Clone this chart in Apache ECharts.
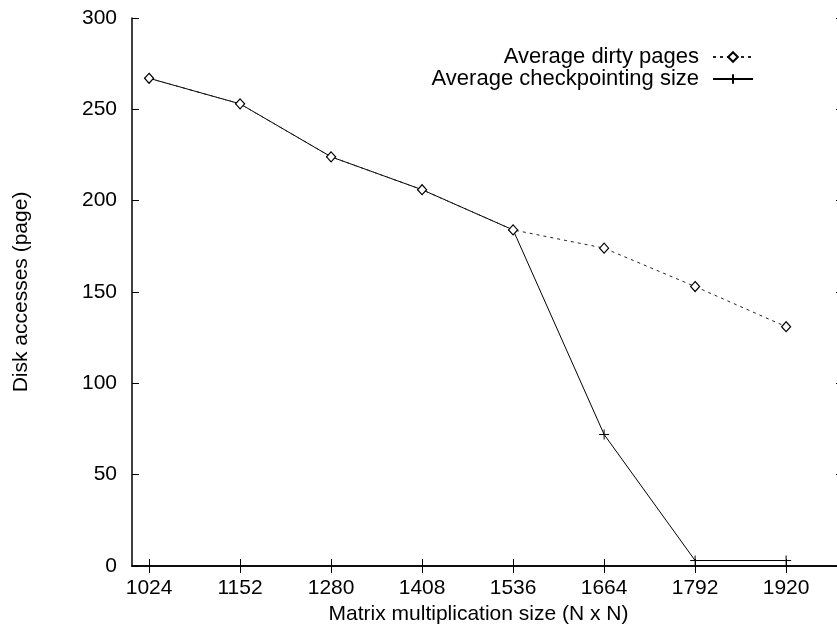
<!DOCTYPE html>
<html>
<head>
<meta charset="utf-8">
<script src="https://cdn.jsdelivr.net/npm/echarts@6/dist/echarts.min.js"></script>
<style>
  html, body { margin: 0; padding: 0; background: #fff; }
  #chart { width: 837px; height: 626px; }
</style>
</head>
<body>
<div id="chart"></div>
<script>
// matrix sizes (N x N)
var sizes = [1024, 1152, 1280, 1408, 1536, 1664, 1792, 1920];
var dirtyPages = [267, 253, 224, 206, 184, 174, 153, 131];
var checkpointSize = [267, 253, 224, 206, 184, 72, 3, 3];
var yTicks = [0, 50, 100, 150, 200, 250, 300];

var font = 'Liberation Sans, Arial, Helvetica, sans-serif';

function pairs(xs, ys) {
  var out = [];
  for (var i = 0; i < xs.length; i++) out.push([xs[i], ys[i]]);
  return out;
}

var myChart = echarts.init(document.getElementById('chart'));

var tickStyle = { show: true, inside: true, length: 7, lineStyle: { color: '#000', width: 1 } };
var lineAxis = { show: true, lineStyle: { color: '#000', width: 1.5 } };
var plain = function (v) { return String(v); };

var option = {
  animation: false,
  backgroundColor: '#fff',
  textStyle: { fontFamily: font },
  grid: { left: 132, top: 18, right: -6, bottom: 60, containLabel: false, outerBoundsMode: 'none' },
  legend: {
    orient: 'vertical',
    right: 78,
    top: 41,
    align: 'right',
    itemWidth: 40,
    itemHeight: 12,
    itemGap: 0,
    textStyle: { fontSize: 22, color: '#000', fontFamily: font, padding: [0, 9, 0, 0] },
    data: ['Average dirty pages', 'Average checkpointing size']
  },
  xAxis: [
    {
      type: 'value',
      min: 1000,
      max: 2000,
      position: 'bottom',
      name: 'Matrix multiplication size (N x N)',
      nameLocation: 'middle',
      nameGap: 34,
      nameTextStyle: { fontSize: 21, color: '#000', padding: [0, 18, 0, 0] },
      axisLine: lineAxis,
      axisTick: Object.assign({ customValues: sizes }, tickStyle),
      axisLabel: { customValues: sizes, fontSize: 21, color: '#000', margin: 12, formatter: plain },
      splitLine: { show: false }
    },
    {
      type: 'value',
      min: 1000,
      max: 2000,
      position: 'top',
      axisLine: lineAxis,
      axisTick: Object.assign({ customValues: sizes }, tickStyle),
      axisLabel: { show: false },
      splitLine: { show: false }
    }
  ],
  yAxis: [
    {
      type: 'value',
      min: 0,
      max: 300,
      interval: 50,
      position: 'left',
      name: 'Disk accesses (page)',
      nameLocation: 'middle',
      nameGap: 100,
      nameTextStyle: { fontSize: 21, color: '#000' },
      axisLine: lineAxis,
      axisTick: Object.assign({ customValues: yTicks }, tickStyle),
      axisLabel: { customValues: yTicks, fontSize: 21, color: '#000', margin: 15, formatter: plain },
      splitLine: { show: false }
    },
    {
      type: 'value',
      min: 0,
      max: 300,
      interval: 50,
      position: 'right',
      axisLine: lineAxis,
      axisTick: Object.assign({ customValues: yTicks }, tickStyle),
      axisLabel: { show: false },
      splitLine: { show: false }
    }
  ],
  series: [
    {
      name: 'Average dirty pages',
      type: 'line',
      data: pairs(sizes, dirtyPages),
      symbol: 'diamond',
      symbolSize: [9, 10],
      showAllSymbol: true,
      lineStyle: { color: '#222', width: 1, type: [3, 4] },
      itemStyle: { color: '#fff', borderColor: '#000', borderWidth: 1.2 },
      z: 3
    },
    {
      name: 'Average checkpointing size',
      type: 'line',
      data: pairs(sizes, checkpointSize),
      symbol: 'path://M0,5L10,5M5,0L5,10',
      symbolSize: 10,
      showAllSymbol: true,
      lineStyle: { color: '#000', width: 1, type: 'solid' },
      itemStyle: { color: '#000', borderColor: '#000', borderWidth: 1 },
      z: 2
    }
  ]
};

myChart.setOption(option);
</script>
</body>
</html>
